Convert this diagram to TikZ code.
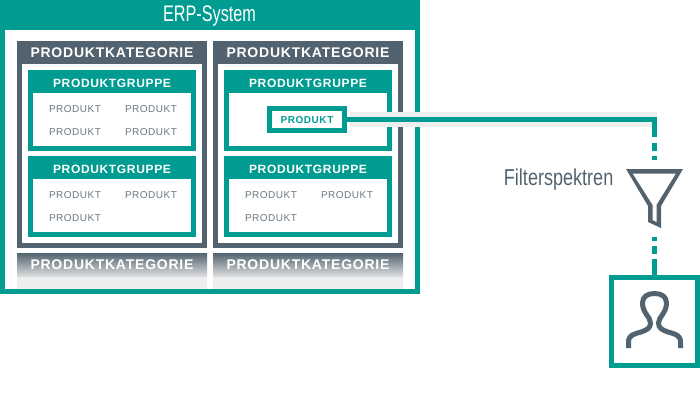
\documentclass[tikz,border=0pt]{standalone}
\usepackage{fontspec}
\setmainfont{Liberation Sans}
\newfontfamily\catfont[LetterSpace=5.5]{Liberation Sans Bold}
\newfontfamily\prodfont[LetterSpace=5]{Liberation Sans}
\newfontfamily\headfont[FakeStretch=0.72]{Liberation Sans}
\newfontfamily\filtfont[FakeStretch=0.785]{Liberation Sans}
\definecolor{tealc}{HTML}{009C91}
\definecolor{darkc}{HTML}{52636F}
\definecolor{prodc}{HTML}{6B7882}
\definecolor{lightc}{HTML}{EEEEEE}
\tikzset{
  catlabel/.style={text=white,inner sep=0pt,font=\catfont\fontsize{14}{14}\selectfont},
  grouplabel/.style={text=white,inner sep=0pt,font=\catfont\fontsize{12}{12}\selectfont},
  prodlabel/.style={text=prodc,inner sep=0pt,font=\prodfont\fontsize{10}{10}\selectfont},
  hilabel/.style={text=tealc,inner sep=0pt,font=\catfont\fontsize{10}{10}\selectfont},
  link/.style={draw=tealc,line width=5pt},
  halo/.style={draw=lightc,line width=15pt},
}
% x1 y1 x2 y2 colour
\newcommand{\blk}[5]{\fill[#5] (#1,#2) rectangle (#3,#4);}
% group: left x, top y, bottom y
\newcommand{\grp}[3]{%
  \blk{#1}{#2}{#1+168}{#3}{tealc}
  \blk{#1+5}{#2+23}{#1+163}{#3-5}{white}
  \node[grouplabel] at (#1+84,#2+13) {PRODUKTGRUPPE};}
% category: left x
\newcommand{\catg}[1]{%
  \blk{#1}{41}{#1+190}{248}{darkc}
  \blk{#1+5}{64}{#1+185}{243}{white}
  \node[catlabel] at (#1+95,53) {PRODUKTKATEGORIE};
  \grp{#1+11}{70}{151}
  \grp{#1+11}{156}{237}}
% faded category: left x
\newcommand{\fade}[1]{%
  \shade[top color=darkc,bottom color=lightc!92!darkc] (#1,253) rectangle (#1+190,277);
  \blk{#1}{277}{#1+190}{289}{lightc}
  \node[catlabel] at (#1+95,265) {PRODUKTKATEGORIE};}
\begin{document}
\begin{tikzpicture}[x=1pt,y=-1pt]
\useasboundingbox (0,0) rectangle (700,400);
% ERP frame
\blk{0}{0}{420}{294}{tealc}
\blk{5}{30}{415}{289}{white}
\node[text=white,inner sep=0pt,font=\headfont\fontsize{22.5}{22.5}\selectfont] (erp) at (209.5,16) {ERP-System};
\catg{17}
\catg{213}
\fade{17}
\fade{213}
% products
\foreach \x/\y in {75/109,151/109,75/132,151/132,75/195,151/195,75/218,271/195,347/195,271/218}
  \node[prodlabel] at (\x,\y) {PRODUKT};
% selected product and connector
\coordinate (haloend) at (657,119.5);
\coordinate (corner) at (654.5,117);
\coordinate (funnelin) at (654.5,160);
\coordinate (funnelout) at (654.5,237);
\node[draw=tealc,line width=5pt,fill=white,minimum width=75pt,minimum height=22pt,inner sep=0pt] (produkt) at (307,119.5) {};
\node[hilabel] at (307,120) {PRODUKT};
\draw[halo] (produkt.east) ++(2.5,0) -- (haloend);
\draw[link] (produkt.east) -- (haloend);
\node[draw=tealc,line width=5pt,fill=white,minimum width=86pt,minimum height=88pt,inner sep=0pt] (user) at (654.5,321.5) {};
\draw[link,dash pattern=on 20pt off 6pt on 8pt off 5pt on 4pt] (corner) -- (funnelin);
\draw[link,dash pattern=on 4pt off 5pt on 8pt off 5pt on 20pt] (funnelout) -- (user.north);
% label
\node[text=darkc,inner sep=0pt,font=\filtfont\fontsize{23}{23}\selectfont,anchor=base east] (filter) at (613.5,185) {Filterspektren};
% funnel
\fill[darkc,even odd rule]
  (626,169) -- (683,169) -- (661,206) -- (661,228) -- (648,222) -- (648,206) -- cycle
  (632.5,173.5) -- (676,173.5) -- (656.5,205) -- (656.5,222) -- (652.5,220) -- (652.5,205) -- cycle;
% person
\draw[darkc,line width=5pt,line join=round]
  (628.5,348) -- (628.5,342)
  .. controls (628.5,335) and (634,334) .. (641,332)
  .. controls (647,330) and (650.5,328) .. (650.5,323)
  .. controls (650.5,317) and (642.5,313) .. (642.5,303)
  .. controls (642.5,296.5) and (647.5,293.5) .. (654.5,293.5)
  .. controls (661.5,293.5) and (666.5,296.5) .. (666.5,303)
  .. controls (666.5,313) and (658.5,317) .. (658.5,323)
  .. controls (658.5,328) and (662,330) .. (668,332)
  .. controls (675,334) and (680.5,335) .. (680.5,342)
  -- (680.5,348);
\end{tikzpicture}
\end{document}
